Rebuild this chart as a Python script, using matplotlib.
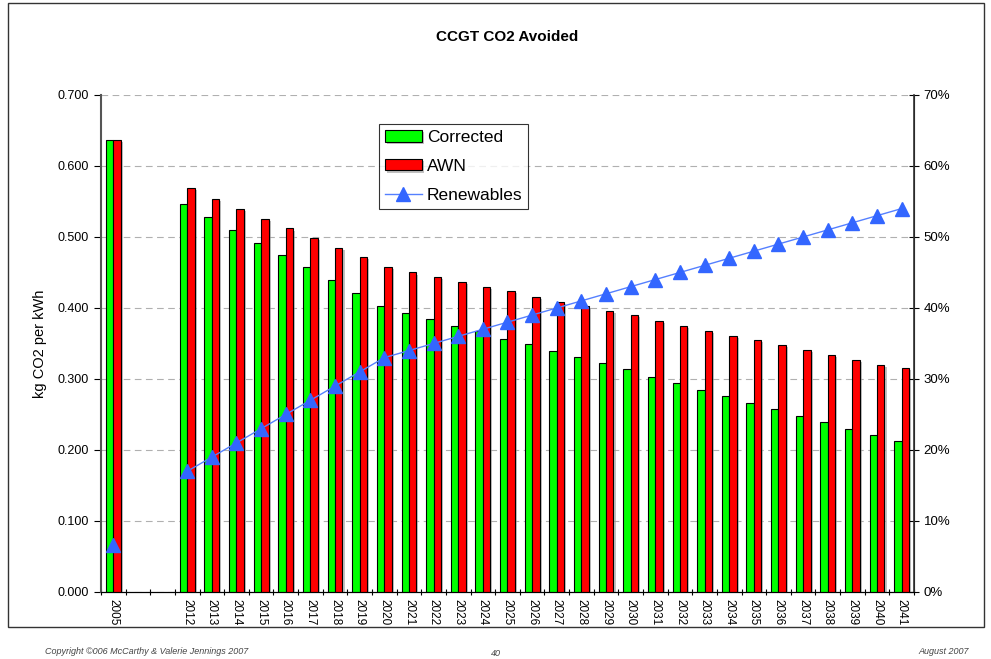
import numpy as np
import matplotlib
matplotlib.use("Agg")
import matplotlib.pyplot as plt
import matplotlib.patheffects as pe
from matplotlib.patches import Rectangle
from matplotlib.ticker import FuncFormatter, MultipleLocator

plt.rcParams['font.family'] = ['Liberation Sans', 'DejaVu Sans']

# categories (two empty slots between 2005 and 2012)
years = ["2005", "", ""] + [str(y) for y in range(2012, 2042)]

corrected = [0.637, np.nan, np.nan,
             0.546, 0.528, 0.510, 0.492, 0.475, 0.457, 0.439, 0.421, 0.403, 0.393,
             0.385, 0.375, 0.367, 0.357, 0.349, 0.339, 0.331, 0.322, 0.314, 0.303,
             0.294, 0.285, 0.276, 0.266, 0.258, 0.248, 0.239, 0.230, 0.221, 0.213]

awn = [0.637, np.nan, np.nan,
       0.569, 0.553, 0.540, 0.525, 0.512, 0.499, 0.484, 0.472, 0.458, 0.450,
       0.444, 0.437, 0.430, 0.424, 0.416, 0.409, 0.403, 0.396, 0.390, 0.382,
       0.375, 0.368, 0.361, 0.355, 0.348, 0.341, 0.334, 0.327, 0.320, 0.315]

renewables = [0.066, np.nan, np.nan,
              0.17, 0.19, 0.21, 0.23, 0.25, 0.27, 0.29, 0.31, 0.33, 0.34,
              0.35, 0.36, 0.37, 0.38, 0.39, 0.40, 0.41, 0.42, 0.43, 0.44,
              0.45, 0.46, 0.47, 0.48, 0.49, 0.50, 0.51, 0.52, 0.53, 0.54]

x = np.arange(len(years))
bw = 0.3

fig = plt.figure(figsize=(9.91, 6.59), dpi=100)
ax = fig.add_axes([0.1019, 0.1017, 0.8204, 0.7542])

# outer frame
fig.patches.append(Rectangle((0.008, 0.049), 0.985, 0.946, transform=fig.transFigure,
                             fill=False, edgecolor="#333333", linewidth=1.0))

shadow = [pe.SimplePatchShadow(offset=(1.5, -1.5), shadow_rgbFace="#999999", alpha=0.6), pe.Normal()]
b1 = ax.bar(x - bw / 2, corrected, bw, color="#00FF00", edgecolor="black", linewidth=0.8,
            label="Corrected", zorder=3)
b2 = ax.bar(x + bw / 2, awn, bw, color="#FF0000", edgecolor="black", linewidth=0.8,
            label="AWN", zorder=3)
for b in list(b1) + list(b2):
    b.set_path_effects(shadow)

ax.set_ylim(0, 0.7)
ax.set_xlim(-0.5, len(years) - 0.5)
ax.yaxis.set_major_locator(MultipleLocator(0.1))
ax.yaxis.set_major_formatter(FuncFormatter(lambda v, p: f"{v:.3f}"))
ax.grid(axis="y", color="#b0b0b0", linestyle=(0, (6, 4)), linewidth=0.8, zorder=0)

ax.set_xticks(x)
ax.set_xticklabels(years, rotation=270, fontsize=8.5)
ax.set_xticks(np.arange(len(years) + 1) - 0.5, minor=True)
ax.tick_params(axis="x", which="major", length=0, pad=5)
ax.tick_params(axis="x", which="minor", length=5, direction="inout", width=0.8)
ax.tick_params(axis="y", labelsize=9, length=5, direction="out", width=0.8)

ax.spines["top"].set_visible(False)
ax.spines["left"].set_color("#555555")
ax.spines["left"].set_linewidth(1.5)
ax.spines["bottom"].set_color("black")

ax.set_ylabel("kg CO2 per kWh", fontsize=10.5, labelpad=8)
ax.set_title("CCGT CO2 Avoided", fontsize=11, fontweight="bold", pad=39)

ax2 = ax.twinx()
ax2.plot(x, renewables, color="#5580FF", linewidth=1.0, marker="^", markersize=10,
         markerfacecolor="#3366FF", markeredgecolor="#3366FF", label="Renewables", zorder=5)
ax2.set_ylim(0, 0.7)
ax2.yaxis.set_major_locator(MultipleLocator(0.1))
ax2.yaxis.set_major_formatter(FuncFormatter(lambda v, p: f"{v * 100:.0f}%"))
ax2.tick_params(axis="y", labelsize=9.5, length=7, direction="inout", width=0.8)
ax2.spines["top"].set_visible(False)
ax2.spines["left"].set_visible(False)
ax2.spines["right"].set_color("#333333")
ax2.spines["right"].set_linewidth(1.2)

h1, l1 = ax.get_legend_handles_labels()
h2, l2 = ax2.get_legend_handles_labels()
leg = ax2.legend(h1 + h2, l1 + l2, loc="upper left", bbox_to_anchor=(0.342, 0.942),
                 fontsize=12.5, frameon=True, fancybox=False, edgecolor="black",
                 handlelength=2.1, handleheight=0.65, borderpad=0.35, labelspacing=0.8,
                 handletextpad=0.3, borderaxespad=0)
leg.get_frame().set_linewidth(0.8)

# page footer remnants
fig.text(0.045, 0.008, "Copyright \u00a9006 McCarthy & Valerie Jennings 2007", fontsize=6.5,
         style="italic", color="#444444")
fig.text(0.495, 0.004, "40", fontsize=6.5, style="italic", color="#444444")
fig.text(0.978, 0.008, "August 2007", fontsize=6.5, style="italic", color="#444444", ha="right")

fig.savefig("out.png", dpi=100)
